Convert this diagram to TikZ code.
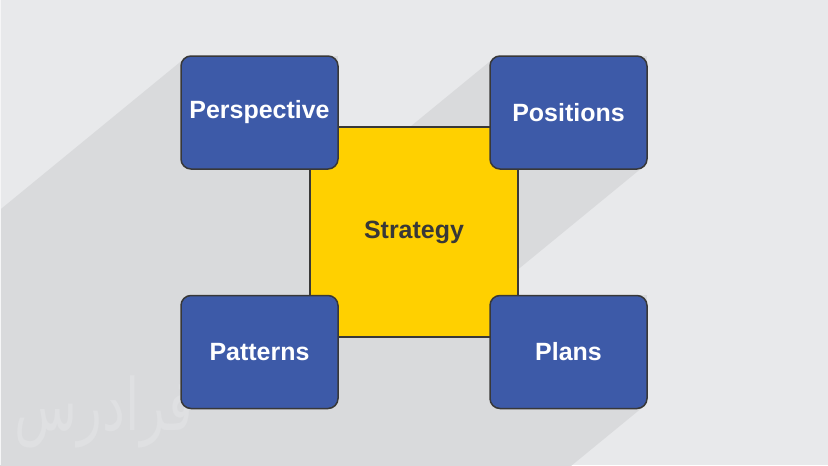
\documentclass[tikz,border=0pt]{standalone}
\usepackage{graphicx}
\usepackage{fontspec}
\setmainfont{Liberation Sans}
\newfontfamily\arabicfont[Script=Arabic]{DejaVu Sans}
\TeXXeTstate=1
\definecolor{bgc}{HTML}{E8E9EB}
\definecolor{shadowc}{HTML}{D9DADC}
\definecolor{wmc}{HTML}{DFE0E2}
\definecolor{boxblue}{HTML}{3D5AA8}
\definecolor{boxyellow}{HTML}{FFD000}
\definecolor{edgec}{HTML}{383838}
\definecolor{darktext}{HTML}{383838}
\newcommand\longshadow[4]{%
  \fill[shadowc] (#1+3.7,#2+2.3) -- (#3,#2) -- (#3-3.7,#4-2.3) -- ++(-800,656)
    -- (#1-800,#4+656) -- (#1+3.7-800,#2+2.3+656) -- cycle;}
\tikzset{
  bluebox/.style={draw=edgec, line width=1.5*0.8536pt, fill=boxblue, rounded corners=10*0.8536pt,
    minimum width=157*0.03cm, minimum height=113*0.03cm, inner sep=0pt,
    text=white, font=\fontsize{21.3}{25}\selectfont\bfseries},
  yellowbox/.style={draw=edgec, line width=1.2*0.8536pt, fill=boxyellow,
    minimum width=208*0.03cm, minimum height=210*0.03cm, inner sep=0pt,
    text=darktext, font=\fontsize{21.3}{25}\selectfont\bfseries},
}
\begin{document}
\begin{tikzpicture}[x=0.03cm, y=-0.03cm]
\useasboundingbox (0,0) rectangle (828,465);
\fill[bgc] (0,0) rectangle (828,465);
\begin{scope}
\clip (0,0) rectangle (828,465);
\longshadow{181}{56}{338}{169}
\longshadow{490}{56}{647}{169}
\longshadow{181}{295}{338}{409}
\longshadow{490}{295}{647}{409}
\fill[shadowc] (310,127) -- (518,127) -- (518,337) -- ++(-800,656) -- (310-800,337+656) -- (310-800,127+656) -- cycle;
\end{scope}
\fill[white!60!bgc] (0,0) rectangle (1.5,465);
\node[text=wmc, font=\arabicfont\fontsize{44}{50}\selectfont, anchor=center, inner sep=0pt] (wm) at (104,412) {\scalebox{1}[1.4]{\beginR فرادرس\endR}};
\node[yellowbox] (strategy) at (414,232) {Strategy};
\node[bluebox] (perspective) at (259.5,112.5) {Perspective};
\node[bluebox] (positions) at (568.5,112.5) {Positions};
\node[bluebox] (patterns) at (259.5,352) {Patterns};
\node[bluebox] (plans) at (568.5,352) {Plans};
\end{tikzpicture}
\end{document}
